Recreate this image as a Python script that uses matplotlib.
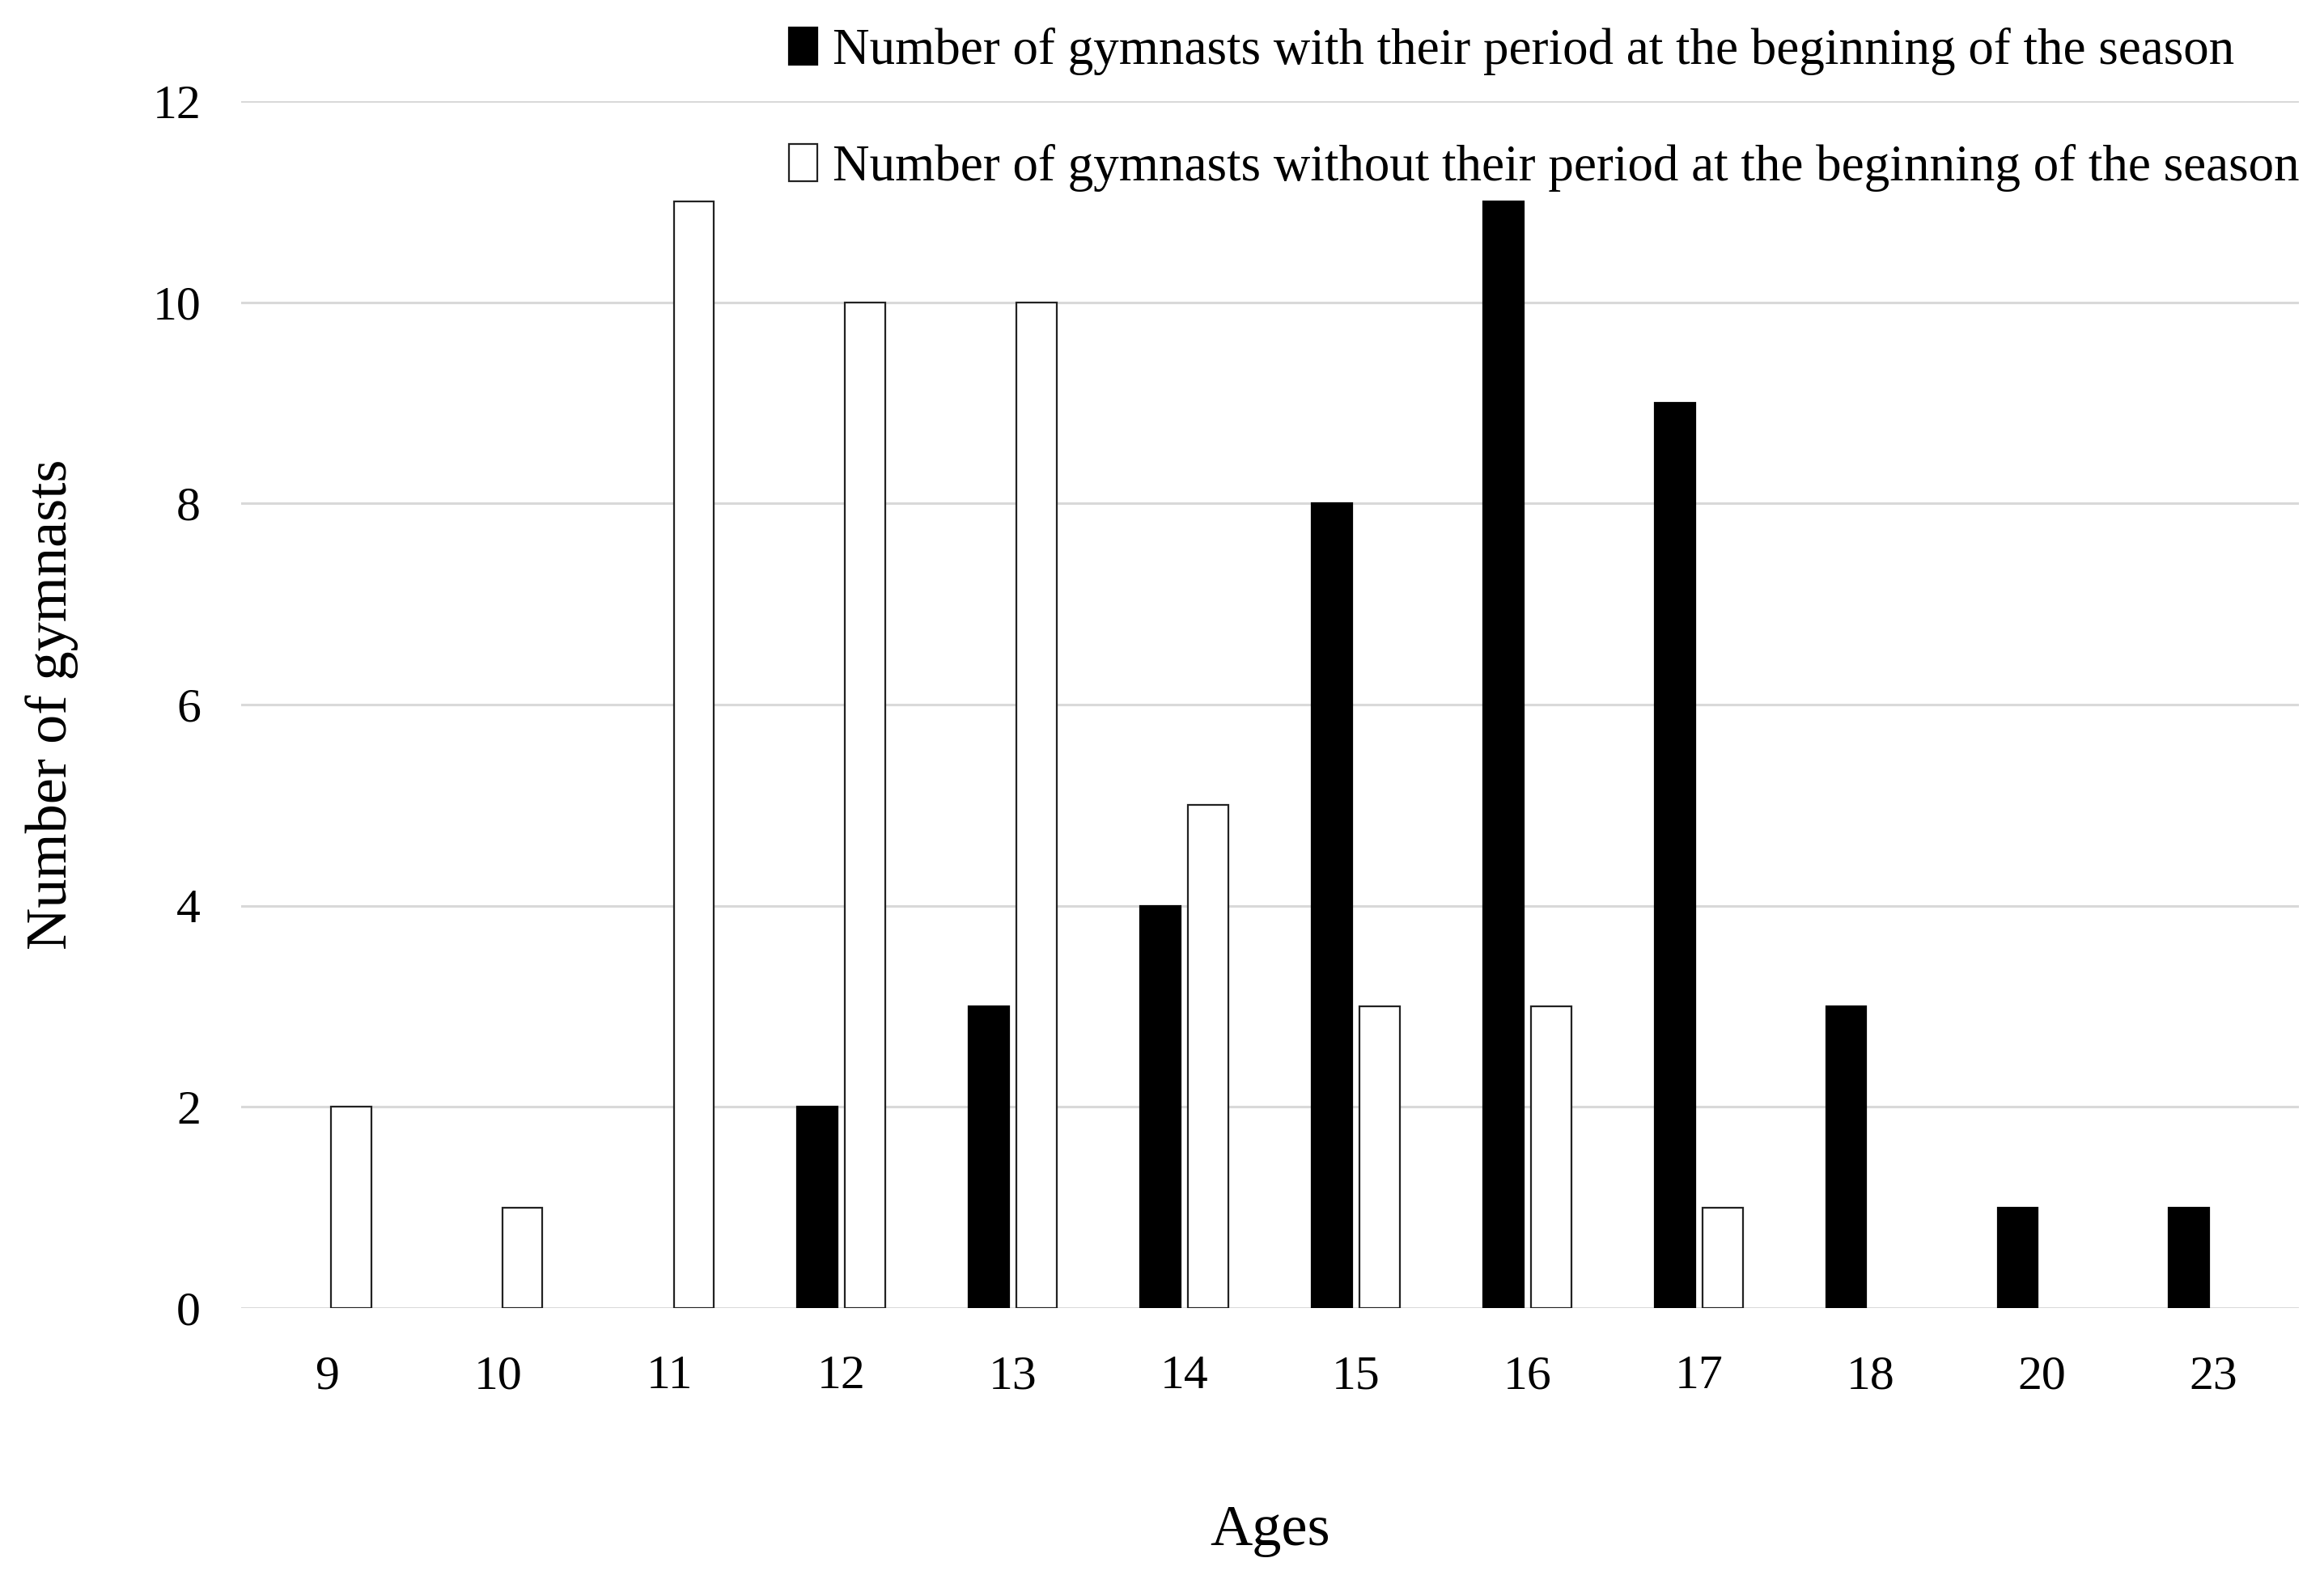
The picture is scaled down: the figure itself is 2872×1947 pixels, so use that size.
import numpy as np
import matplotlib
matplotlib.use('Agg')
import matplotlib.pyplot as plt
from matplotlib.patches import Patch

ages = ['9', '10', '11', '12', '13', '14', '15', '16', '17', '18', '20', '23']
with_period = [0, 0, 0, 2, 3, 4, 8, 11, 9, 3, 1, 1]
without_period = [2, 1, 11, 10, 10, 5, 3, 3, 1, 0, 0, 0]
legend_labels = ['Number of gymnasts with their period at the beginning of the season',
                 'Number of gymnasts without their period at the beginning of the season']

plt.rcParams['font.family'] = ['Liberation Serif', 'DejaVu Serif']

W, H = 2872, 1947
fig = plt.figure(figsize=(W / 200, H / 200), dpi=200)
ax = fig.add_axes([298 / W, 1 - 1617 / H, (2841 - 298) / W, (1617 - 125) / H])

x = np.arange(len(ages))
bw = 0.235
off = 0.14
b1 = ax.bar(x - off, with_period, bw, color='black', edgecolor='black', linewidth=0.8, zorder=3)
b2 = ax.bar(x + off, without_period, bw, color='white', edgecolor='#222222', linewidth=0.8, zorder=3)
# hide the empty bars (excel draws nothing for zero)
for bars in (b1, b2):
    for p in bars:
        if p.get_height() == 0:
            p.set_visible(False)

ax.set_xlim(-0.5, len(ages) - 0.5)
ax.set_ylim(0, 12)
ax.set_yticks(range(0, 13, 2))
ax.set_xticks(x)
ax.set_xticklabels(ages)
ax.yaxis.grid(True, color='#d9d9d9', linewidth=1.1, zorder=0)
ax.set_axisbelow(True)
for s in ax.spines.values():
    s.set_visible(False)
ax.tick_params(axis='both', length=0, labelsize=21.5)
ax.tick_params(axis='x', pad=21)
ax.tick_params(axis='y', pad=18)

ax.set_ylabel('Number of gymnasts', fontsize=26)
ax.yaxis.set_label_coords(-0.079, 0.5)
ax.set_xlabel('Ages', fontsize=26)
ax.xaxis.set_label_coords(0.5, -0.163)

handles = [Patch(facecolor='black', edgecolor='black', linewidth=0.8),
           Patch(facecolor='white', edgecolor='#222222', linewidth=0.8)]
fig.legend(handles, legend_labels, loc='upper left', bbox_to_anchor=(975 / W, 1 - 34 / H),
           frameon=False, fontsize=22.7, borderpad=0, borderaxespad=0,
           handlelength=0.55, handleheight=0.75, handletextpad=0.3, labelspacing=1.35)

fig.savefig('out.png', dpi=200, facecolor='white')
